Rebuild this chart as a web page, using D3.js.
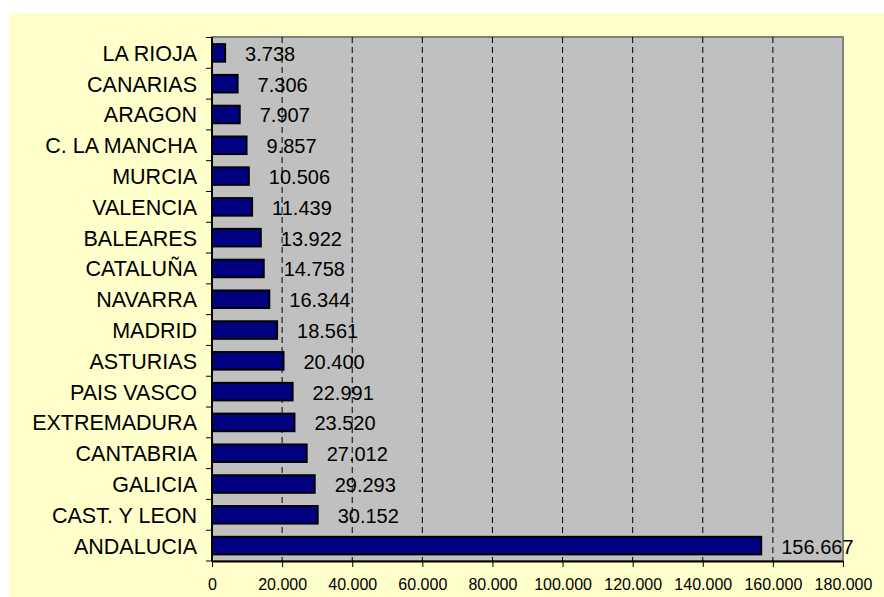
<!DOCTYPE html>
<html>
<head>
<meta charset="utf-8">
<script src="https://cdn.jsdelivr.net/npm/d3@7"></script>
<style>
  html, body { margin: 0; padding: 0; background: #fff; }
  svg { display: block; font-family: "Liberation Sans", Arial, sans-serif; }
</style>
</head>
<body>
<div id="chart"></div>
<script>
const Regions = [
    "LA RIOJA", "CANARIAS", "ARAGON", "C. LA MANCHA", "MURCIA", "VALENCIA",
    "BALEARES", "CATALUÑA", "NAVARRA", "MADRID", "ASTURIAS", "PAIS VASCO",
    "EXTREMADURA", "CANTABRIA", "GALICIA", "CAST. Y LEON", "ANDALUCIA"
];

const Values = [
    3738, 7306, 7907, 9857, 10506, 11439,
    13922, 14758, 16344, 18561, 20400, 22991,
    23520, 27012, 29293, 30152, 156667
];

const AxisMax = 180000;

const width = 884;
const height = 597;

const plot = { left: 212, top: 37, right: 843, bottom: 561 };

const es = d3.formatLocale({ decimal: ",", thousands: ".", grouping: [3], currency: ["", ""] });
const fmt = es.format(",d");

const svg = d3.select("#chart").append("svg")
    .attr("width", width)
    .attr("height", height);

// yellow chart area
svg.append("rect")
    .attr("x", 9).attr("y", 13)
    .attr("width", width - 9).attr("height", height - 13)
    .attr("fill", "#ffffcc");

const x = d3.scaleLinear()
    .domain([0, AxisMax])
    .range([plot.left, plot.right]);

const y = d3.scaleBand()
    .domain(Regions)
    .range([plot.top + 0.5, plot.bottom])
    .paddingInner(0.43)
    .paddingOuter(0.215);

// plot area
svg.append("rect")
    .attr("x", plot.left).attr("y", plot.top)
    .attr("width", plot.right - plot.left).attr("height", plot.bottom - plot.top)
    .attr("fill", "#c0c0c0")
    .attr("stroke", "#808080")
    .attr("stroke-width", 2);

// dashed gridlines
const ticks = x.ticks(9);
svg.append("g")
    .selectAll("line")
    .data(ticks.filter(d => d > 0 && d < AxisMax))
    .enter().append("line")
        .attr("x1", d => x(d)).attr("x2", d => x(d))
        .attr("y1", plot.top).attr("y2", plot.bottom)
        .attr("stroke", "#000")
        .attr("stroke-width", 1)
        .attr("stroke-dasharray", "6,4");

// bars
svg.append("g")
    .selectAll("rect")
    .data(Values)
    .enter().append("rect")
        .attr("x", x(0))
        .attr("y", (d, i) => y(Regions[i]))
        .attr("width", d => x(d) - x(0))
        .attr("height", y.bandwidth())
        .attr("fill", "#000080")
        .attr("stroke", "#000")
        .attr("stroke-width", 2);

// value labels
svg.append("g")
    .selectAll("text")
    .data(Values)
    .enter().append("text")
        .attr("x", d => x(d) + 20)
        .attr("y", (d, i) => y(Regions[i]) + y.bandwidth() / 2 + 8)
        .attr("font-size", 20)
        .attr("fill", "#000")
        .text(d => fmt(d));

// x axis
const xAxis = svg.append("g")
    .attr("transform", `translate(0,${plot.bottom})`)
    .call(d3.axisBottom(x).tickValues(ticks).tickSize(6).tickSizeOuter(0).tickFormat(fmt));
xAxis.select(".domain").attr("stroke", "#000").attr("stroke-width", 2);
xAxis.selectAll(".tick line").attr("stroke", "#000").attr("stroke-width", 1);
xAxis.selectAll(".tick text")
    .attr("y", 18)
    .attr("font-size", 16)
    .attr("font-family", "Liberation Sans, Arial, sans-serif")
    .attr("fill", "#000");

// y axis line and ticks between categories
const bounds = Regions.map(r => y(r) - y.step() * y.paddingInner() / 2).concat([plot.bottom]);
svg.append("g")
    .selectAll("line")
    .data(bounds)
    .enter().append("line")
        .attr("x1", plot.left - 6).attr("x2", plot.left)
        .attr("y1", d => d).attr("y2", d => d)
        .attr("stroke", "#000")
        .attr("stroke-width", 1);

svg.append("line")
    .attr("x1", plot.left).attr("x2", plot.left)
    .attr("y1", plot.top).attr("y2", plot.bottom)
    .attr("stroke", "#000")
    .attr("stroke-width", 2);

// category labels
svg.append("g")
    .selectAll("text")
    .data(Regions)
    .enter().append("text")
        .attr("x", plot.left - 15)
        .attr("y", d => y(d) + y.bandwidth() / 2 + 8)
        .attr("text-anchor", "end")
        .attr("font-size", 21.5)
        .attr("fill", "#000")
        .text(d => d);
</script>
</body>
</html>
